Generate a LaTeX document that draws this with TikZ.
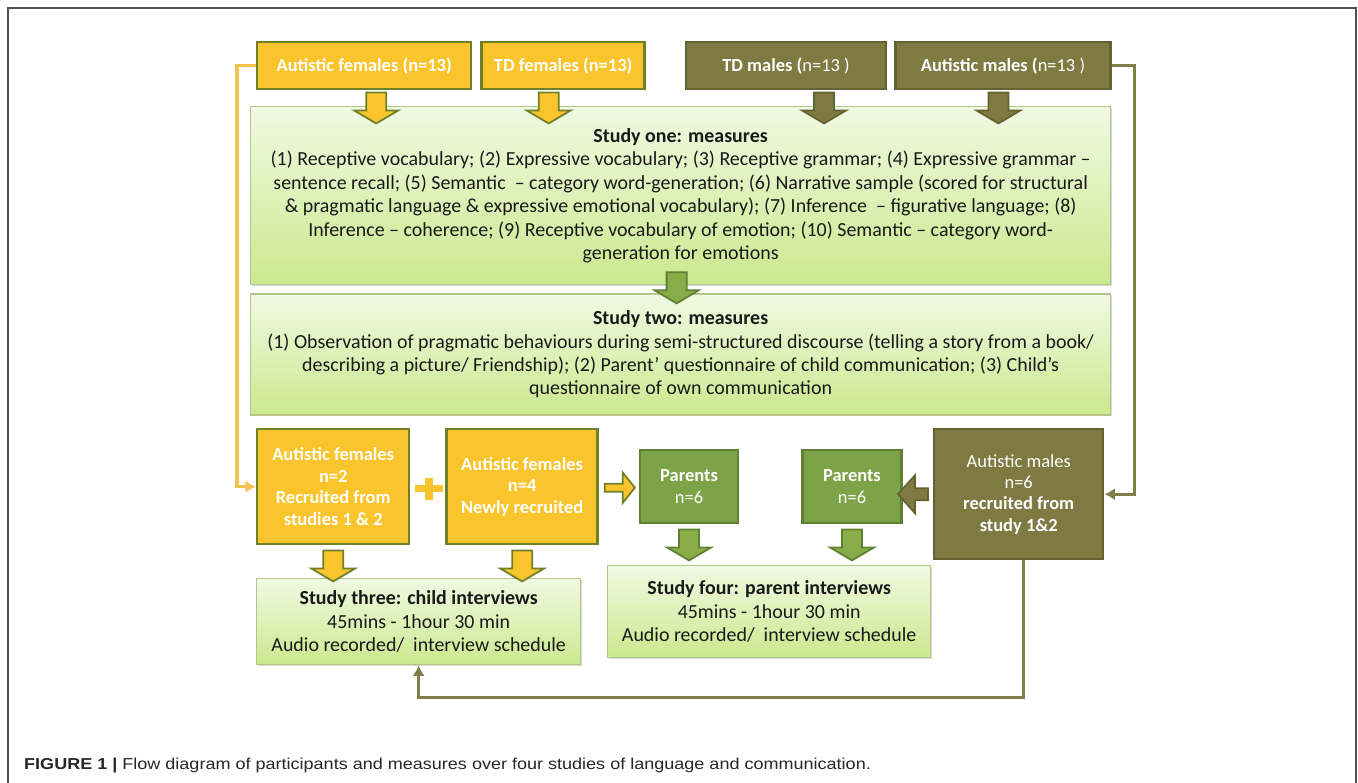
\documentclass[tikz,border=0pt]{standalone}
\usepackage{fontspec}
\setmainfont{Carlito}
\newfontfamily\capfont[FakeStretch=1.14]{Liberation Sans}
\usetikzlibrary{positioning, calc, shadows, arrows.meta}

\definecolor{ygold}{RGB}{250,196,44}
\definecolor{yedge}{RGB}{110,128,40}
\definecolor{yline}{RGB}{245,196,80}
\definecolor{olivebox}{RGB}{127,122,66}
\definecolor{oedge}{RGB}{100,98,48}
\definecolor{oline}{RGB}{130,126,72}
\definecolor{parentbox}{RGB}{124,163,72}
\definecolor{pedge}{RGB}{96,128,50}
\definecolor{garrowfill}{RGB}{135,172,72}
\definecolor{studytop}{RGB}{240,249,226}
\definecolor{studybot}{RGB}{202,233,142}
\definecolor{studyedge}{RGB}{182,196,140}
\definecolor{framegray}{RGB}{80,80,80}

\tikzstyle{female}  = [rectangle, draw=yedge, line width=1.4pt, fill=ygold, text=white,
                       align=center, font=\fontsize{10.5}{12.2}\selectfont\bfseries,
                       drop shadow={shadow xshift=0.5pt, shadow yshift=-0.5pt, opacity=0.3}]
\tikzstyle{male}    = [rectangle, draw=oedge, line width=1.4pt, fill=olivebox, text=white,
                       align=center, font=\fontsize{10.5}{12.2}\selectfont,
                       drop shadow={shadow xshift=0.5pt, shadow yshift=-0.5pt, opacity=0.3}]
\tikzstyle{parent}  = [rectangle, draw=pedge, line width=1.4pt, fill=parentbox, text=white,
                       align=center, font=\fontsize{10.5}{12.2}\selectfont,
                       drop shadow={shadow xshift=0.5pt, shadow yshift=-0.5pt, opacity=0.3}]
\tikzstyle{study}   = [rectangle, draw=studyedge, line width=0.8pt, top color=studytop,
                       bottom color=studybot, text=black!90, align=center,
                       font=\fontsize{11.35}{13.3}\selectfont,
                       drop shadow={shadow xshift=0.6pt, shadow yshift=-0.6pt, opacity=0.3}]
\tikzstyle{yarrow}  = [fill=ygold, draw=yedge, line width=1pt]
\tikzstyle{oarrow}  = [fill=olivebox, draw=oedge, line width=1pt]
\tikzstyle{garrow}  = [fill=garrowfill, draw=pedge, line width=1pt]
\tikzstyle{yconn}   = [draw=yline, line width=1.8pt, -{Latex[length=6pt,width=7pt]}]
\tikzstyle{oconn}   = [draw=oline, line width=1.7pt, -{Latex[length=6pt,width=7pt]}]

\tikzset{
  pics/blockdown/.style={code={
    \draw[#1] (-10,0) -- (10,0) -- (10,18) -- (22,18) -- (0,31) -- (-22,18) -- (-10,18) -- cycle;}},
  pics/blockright/.style={code={
    \draw[#1] (0,-4) -- (18,-4) -- (18,-15) -- (30,0) -- (18,15) -- (18,4) -- (0,4) -- cycle;}},
  pics/blockleft/.style={code={
    \draw[#1] (0,-6) -- (-13,-6) -- (-13,-19) -- (-30,0) -- (-13,19) -- (-13,6) -- (0,6) -- cycle;}}
}

\begin{document}
\begin{tikzpicture}[x=0.02cm, y=-0.02cm]

  \useasboundingbox (0,0) rectangle (1358,783);

  % Frame
  \draw[framegray, line width=1.1pt] (8,783) -- (8,8) -- (1356,8) -- (1356,783);

  % Top row: groups
  \node (af)  [female, minimum width=4.28cm, minimum height=0.94cm, anchor=north west] at (256,41)
              {Autistic females (n=13)};
  \node (tdf) [female, minimum width=3.26cm, minimum height=0.94cm, right=0.16cm of af]
              {TD females (n=13)};
  \node (tdm) [male, minimum width=4cm, minimum height=0.94cm, right=0.78cm of tdf]
              {\textbf{TD males (}n=13 )};
  \node (am)  [male, minimum width=4.3cm, minimum height=0.94cm, right=0.14cm of tdm]
              {\textbf{Autistic males (}n=13 )};

  % Studies one and two
  \node (one) [study, minimum width=17.2cm, minimum height=3.56cm, anchor=north west] at (250,106)
              {\textbf{Study one: measures}\\
               (1) Receptive vocabulary; (2) Expressive vocabulary; (3) Receptive grammar; (4) Expressive grammar --\\
               sentence recall; (5) Semantic \ -- category word-generation; (6) Narrative sample (scored for structural\\
               \& pragmatic language \& expressive emotional vocabulary); (7) Inference \ -- figurative language; (8)\\
               Inference -- coherence; (9) Receptive vocabulary of emotion; (10) Semantic -- category word-\\
               generation for emotions};
  \node (two) [study, minimum width=17.2cm, minimum height=2.42cm, below=0.16cm of one]
              {\textbf{Study two: measures}\\
               (1) Observation of pragmatic behaviours during semi-structured discourse (telling a story from a book/\\
               describing a picture/ Friendship); (2) Parent’ questionnaire of child communication; (3) Child’s\\
               questionnaire of own communication};

  % Bottom row: samples
  \node (af2)  [female, minimum width=3.04cm, minimum height=2.3cm, anchor=north west] at (256,428)
               {Autistic females\\ n=2\\ Recruited from\\ studies 1 \& 2};
  \node (af4)  [female, minimum width=3.02cm, minimum height=2.3cm, right=0.7cm of af2]
               {Autistic females\\ n=4\\ Newly recruited};
  \node (par1) [parent, minimum width=1.96cm, minimum height=1.46cm, right=0.8cm of af4]
               {\textbf{Parents}\\ n=6};
  \node (par2) [parent, minimum width=1.98cm, minimum height=1.46cm, right=1.24cm of par1]
               {\textbf{Parents}\\ n=6};
  \node (am6)  [male, minimum width=3.38cm, minimum height=2.6cm, anchor=north west] at (933,428)
               {Autistic males\\ n=6\\ \textbf{recruited from}\\ \textbf{study 1\&2}};

  % Studies three and four
  \node (three) [study, minimum width=6.48cm, minimum height=1.72cm, anchor=north west] at (256,578)
                {\textbf{Study three: child interviews}\\ 45mins - 1hour 30 min\\ Audio recorded/ \ interview schedule};
  \node (four)  [study, minimum width=6.46cm, minimum height=1.84cm, anchor=north west] at (607,565)
                {\textbf{Study four: parent interviews}\\ 45mins - 1hour 30 min\\ Audio recorded/ \ interview schedule};

  % Block arrows
  \pic at ($(af.south)+(12,2)$)     {blockdown=yarrow};
  \pic at ($(tdf.south)+(-14.5,2)$) {blockdown=yarrow};
  \pic at ($(tdm.south)+(38,2)$)    {blockdown=oarrow};
  \pic at ($(am.south)+(-4.5,2)$)   {blockdown=oarrow};
  \pic at ($(one.south)+(-4,-13)$)  {blockdown=garrow};
  \pic at ($(af2.south)+(0,5)$)     {blockdown=yarrow};
  \pic at ($(af4.south)+(0,5)$)     {blockdown=yarrow};
  \pic at ($(par1.south)+(0,5)$)    {blockdown=garrow};
  \pic at ($(par2.south)+(0,5)$)    {blockdown=garrow};
  \pic at ($(af4.east)+(6,1)$)      {blockright=yarrow};
  \pic at ($(am6.west)+(-5,0)$)     {blockleft=oarrow};

  % Plus sign
  \coordinate (plus) at ($(af2.east)!0.5!(af4.west)+(1,2)$);
  \draw[ygold, line width=0.14cm] ($(plus)+(-14,0)$) -- ($(plus)+(14,0)$);
  \draw[ygold, line width=0.15cm] ($(plus)+(0,-11)$) -- ($(plus)+(0,11)$);

  % Connectors
  \draw[yconn] (af.west) -- ++(-19,0) |- (af2.west);
  \draw[oconn] (am.east) -- ++(23,0) |- (am6.east);
  \draw[oconn] ($(am6.south)+(5,0)$) -- ++(0,137) -| (three.south);

  % Caption
  \node (cap) [anchor=base west, text=black!85, font=\capfont\fontsize{9}{11}\selectfont] at (18,769)
              {\textbf{FIGURE 1 |} Flow diagram of participants and measures over four studies of language and communication.};

\end{tikzpicture}
\end{document}
